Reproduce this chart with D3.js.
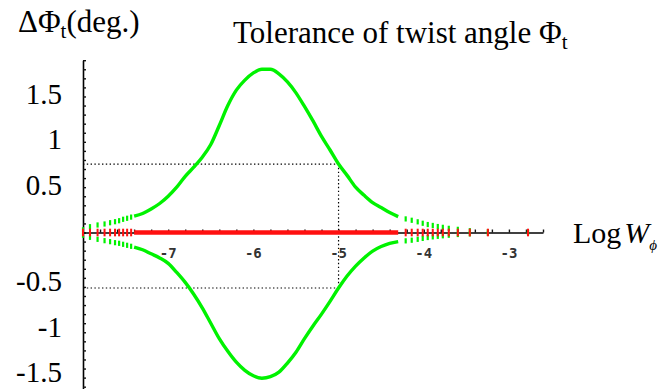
<!DOCTYPE html>
<html>
<head>
<meta charset="utf-8">
<script src="https://cdn.jsdelivr.net/npm/d3@7"></script>
<style>
  html, body { margin: 0; padding: 0; background: #fff; }
  svg { display: block; }
  .serif { font-family: "Liberation Serif", "Times New Roman", serif; fill: #000; }
  .tickLabel { font-family: "DejaVu Sans Mono", monospace; font-size: 14px; font-weight: bold; fill: #333; }
</style>
</head>
<body>
<svg id="chart" width="664" height="392"></svg>
<script>
// Continuous (densely sampled) stretch of the tolerance curves: log10 W vs ΔΦt in degrees
const curveLogW  = [-7.4, -7.3, -7.2, -7.1, -7.0, -6.9, -6.8, -6.7, -6.6, -6.5, -6.4, -6.3, -6.2, -6.1, -6.0, -5.9, -5.8,
                    -5.7, -5.6, -5.5, -5.4, -5.3, -5.2, -5.1, -5.0, -4.9, -4.8, -4.7, -4.6, -4.5, -4.4, -4.3];
const curveUpper = [0.18, 0.21, 0.26, 0.32, 0.40, 0.50, 0.62, 0.72, 0.83, 0.97, 1.18, 1.40, 1.57, 1.68, 1.76, 1.80, 1.80,
                    1.75, 1.66, 1.54, 1.39, 1.23, 1.06, 0.91, 0.755, 0.63, 0.50, 0.41, 0.33, 0.275, 0.22, 0.175];
const curveLower = [-0.16, -0.19, -0.235, -0.28, -0.34, -0.44, -0.55, -0.68, -0.83, -1.00, -1.17, -1.31, -1.43, -1.52, -1.58, -1.607, -1.59,
                    -1.54, -1.44, -1.32, -1.17, -1.03, -0.90, -0.76, -0.612, -0.48, -0.37, -0.28, -0.205, -0.155, -0.12, -0.10];

// Sparse samples at both ends of the sweep
const tailLogW  = [-8.00, -7.918, -7.829, -7.747, -7.682, -7.624, -7.576, -7.529, -7.482, -7.435,
                   -4.212, -4.141, -4.071, -4.012, -3.953, -3.894, -3.835, -3.776, -3.706, -3.600, -3.459, -3.247, -2.776];
const tailUpper = [0.03, 0.064, 0.083, 0.094, 0.108, 0.119, 0.130, 0.146, 0.157, 0.170,
                   0.150, 0.135, 0.118, 0.102, 0.088, 0.078, 0.066, 0.057, 0.046, 0.035, 0.020, 0.010, 0.003];
const tailLower = [-0.03, -0.053, -0.075, -0.090, -0.101, -0.112, -0.119, -0.130, -0.141, -0.152,
                   -0.092, -0.085, -0.075, -0.065, -0.055, -0.048, -0.042, -0.036, -0.030, -0.022, -0.015, -0.008, -0.002];

// Reference marks at W = 1e-5
const markLogW = -5;
const markUpper = 0.755;
const markLower = -0.612;

// Axis ticks and labels
const xTickValues = [-7, -6, -5, -4, -3];
const xTickLabels = ["-7", "-6", "-5", "-4", "-3"];
const yTickValues = [1.5, 1, 0.5, -0.5, -1, -1.5];
const yTickLabels = ["1.5", "1", "0.5", "-0.5", "-1", "-1.5"];

const svg = d3.select("#chart");

const x = d3.scaleLinear().domain([-8, -2.6]).range([83, 543]);
const y = d3.scaleLinear().domain([-1.72, 1.9]).range([388.5, 60.2]);

const xMinor = d3.range(-8, -2.6 + 1e-9, 0.2).map(v => +v.toFixed(2));
const yMinor = d3.range(-1.7, 1.9 + 1e-9, 0.1).map(v => +v.toFixed(2));

// Axes through the origin
const yAxis = svg.append("g")
  .attr("transform", `translate(${x(-8)},0)`)
  .call(d3.axisRight(y).tickValues(yMinor).tickSize(3).tickSizeOuter(0).tickFormat(""));
const xAxis = svg.append("g")
  .attr("transform", `translate(0,${y(0)})`)
  .call(d3.axisTop(x).tickValues(xMinor.filter(v => v > -8)).tickSize(3).tickSizeOuter(0).tickFormat(""));
[yAxis, xAxis].forEach(g => {
  g.select(".domain").attr("stroke", "#000").attr("stroke-width", 1.6);
  g.selectAll(".tick line").attr("stroke", "#111").attr("stroke-width", 1.4);
});

// Dotted guide lines at W = 1e-5
const guides = svg.append("g").attr("stroke", "#000").attr("stroke-width", 1.2).attr("stroke-dasharray", "1.4,2.4").attr("fill", "none");
guides.append("line").attr("x1", x(-8)).attr("x2", x(markLogW)).attr("y1", y(markUpper)).attr("y2", y(markUpper));
guides.append("line").attr("x1", x(-8)).attr("x2", x(markLogW)).attr("y1", y(markLower)).attr("y2", y(markLower));
guides.append("line").attr("x1", x(markLogW)).attr("x2", x(markLogW)).attr("y1", y(markUpper)).attr("y2", y(markLower));

// Green tolerance curves
const green = "#00f200";
const line = d3.line().x(d => x(d[0])).y(d => y(d[1])).curve(d3.curveMonotoneX);
[curveUpper, curveLower].forEach(vals => {
  svg.append("path")
    .datum(curveLogW.map((w, i) => [w, vals[i]]))
    .attr("d", line)
    .attr("fill", "none")
    .attr("stroke", green)
    .attr("stroke-width", 3.4)
    .attr("stroke-linejoin", "round");
});
[tailUpper, tailLower].forEach(vals => {
  svg.append("g").selectAll("rect")
    .data(tailLogW.map((w, i) => [w, vals[i]]))
    .join("rect")
    .attr("x", d => x(d[0]) - 1.1)
    .attr("y", d => y(d[1]) - 2.6)
    .attr("width", 2.2)
    .attr("height", 5.2)
    .attr("fill", green);
});

// Red zero line sampled at the same points
const red = "#ff1010";
svg.append("path")
  .datum(curveLogW.map(w => [w, 0]))
  .attr("d", d3.line().x(d => x(d[0])).y(d => y(d[1])))
  .attr("stroke", red)
  .attr("stroke-width", 4.6)
  .attr("fill", "none");
svg.append("g").selectAll("rect")
  .data(tailLogW.map(w => [w, 0]))
  .join("rect")
  .attr("x", d => x(d[0]) - 1)
  .attr("y", d => y(d[1]) - 3.8)
  .attr("width", 2)
  .attr("height", 7.6)
  .attr("fill", red);

// Tick labels
svg.append("g").selectAll("text")
  .data(xTickValues)
  .join("text")
  .attr("class", "tickLabel")
  .attr("x", d => x(d))
  .attr("y", y(0) + 25)
  .attr("text-anchor", "middle")
  .text((d, i) => xTickLabels[i]);

svg.append("g").selectAll("text")
  .data(yTickValues)
  .join("text")
  .attr("class", "serif")
  .attr("font-size", 29)
  .attr("x", 62)
  .attr("y", d => y(d) + (d > 0 ? 7.5 : 13.5))
  .attr("text-anchor", "end")
  .text((d, i) => yTickLabels[i]);

// Titles
const yTitle = svg.append("text").attr("class", "serif").attr("font-size", 31).attr("x", 18).attr("y", 32);
yTitle.append("tspan").text("ΔΦ");
yTitle.append("tspan").attr("font-size", 21).attr("dy", 6).text("t");
yTitle.append("tspan").attr("dy", -6).text("(deg.)");

const title = svg.append("text").attr("class", "serif").attr("font-size", 31).attr("x", 233).attr("y", 43);
title.append("tspan").text("Tolerance of twist angle Φ");
title.append("tspan").attr("font-size", 21).attr("dy", 6).text("t");

const xTitle = svg.append("text").attr("class", "serif").attr("font-size", 30).attr("x", 573).attr("y", 243);
xTitle.append("tspan").text("Log");
xTitle.append("tspan").attr("font-style", "italic").attr("dx", 3).text("W");
xTitle.append("tspan").attr("font-style", "italic").attr("font-size", 15).attr("dy", 7).text("ϕ");
</script>
</body>
</html>
